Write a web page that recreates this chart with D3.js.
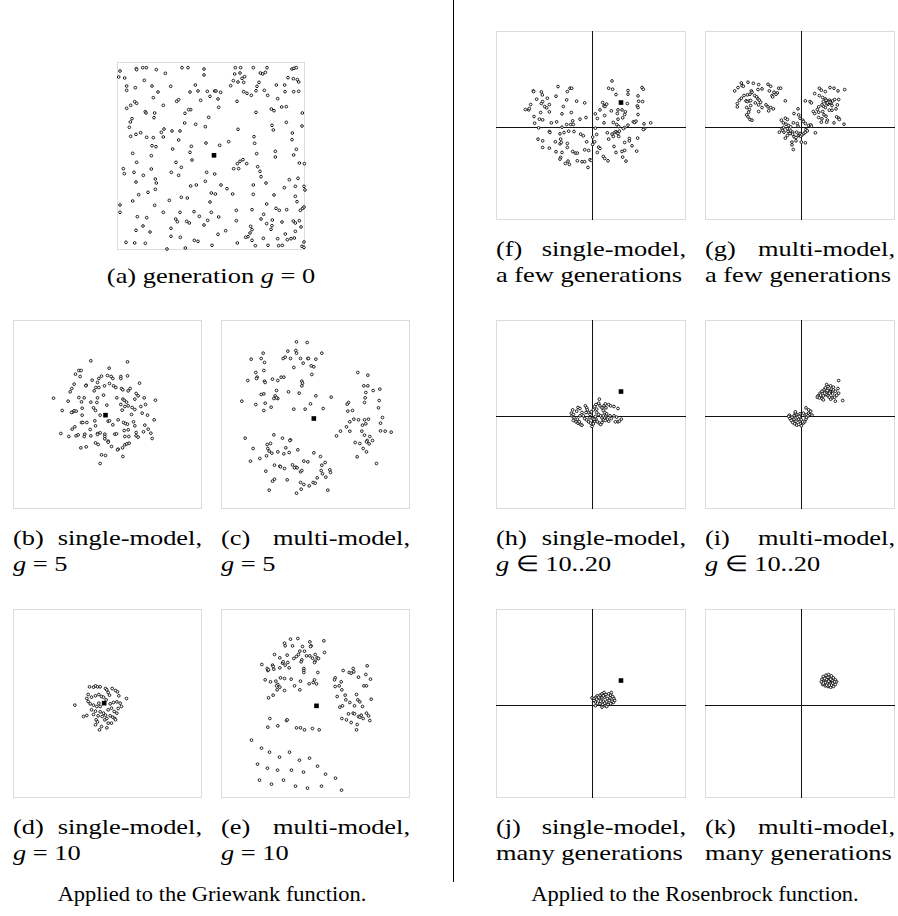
<!DOCTYPE html>
<html>
<head>
<meta charset="utf-8">
<script src="https://cdn.jsdelivr.net/npm/d3@7"></script>
<style>
  body { margin: 0; background: #fff; }
  svg { display: block; }
</style>
</head>
<body>
<svg id="fig" width="898" height="916"></svg>
<script>
/* globals d3 */

// Griewank populations (a)..(e), search-space units
var genZero = [
[-2.73,2.55],[-2.24,2.62],[-2.23,2.59],[-2.05,2.65],[-1.94,2.65],[-1.64,2.59],[-1.37,2.48],[-0.87,2.65],[-0.69,2.65],[-0.21,2.61],[-0.21,2.43],[0.73,2.65],[0.89,2.65],[1.27,2.65],[1.68,2.65],[2.43,2.61],[2.49,2.63],[2.56,2.65],[0.87,2.49],[0.71,2.46],[1.01,2.38],[1.48,2.49],[1.55,2.46],[1.63,2.51],
[-2.77,2.37],[-2.59,2.34],[-2.00,2.27],[0.67,2.26],[0.93,2.33],[0.81,2.22],[0.98,2.21],[0.59,2.11],[1.44,2.21],[1.38,2.09],[1.96,2.13],[2.21,2.13],[2.31,2.35],[2.47,2.32],[2.59,2.29],[2.63,2.22],[-0.47,2.13],[-2.53,2.10],[-2.53,1.97],[-2.27,2.05],[-1.77,2.10],[-1.21,2.09],[-1.59,1.92],[-1.73,1.75],[-0.63,1.92],[-0.39,1.95],[-0.11,1.94],[0.11,1.95],[0.15,1.95],[0.29,1.91],[-0.03,1.79],[0.21,1.71],[-0.31,1.67],[-1.03,1.64],[-0.97,1.69],[-0.61,1.39],[-0.67,1.39],[-1.43,1.52],[-2.29,1.63],[-2.23,1.58],[-2.41,1.52],[-2.53,1.43],[-1.97,1.33],[-1.95,1.29],[-1.69,1.29],[-1.71,1.15],[-0.78,1.28],[0.23,1.46],[0.78,1.64],[0.98,1.93],[1.08,1.88],[1.21,1.82],[1.35,1.96],[1.60,1.97],[1.70,1.82],[2.00,1.72],[2.22,1.93],[2.48,1.93],[2.63,1.94],[2.12,1.47],[2.26,1.48],[1.81,1.41],[1.89,1.36],[1.35,1.31],[2.74,1.29],
[-2.37,1.12],[-2.42,1.02],[-2.45,0.86],[-2.41,0.59],[-2.25,0.65],[-2.11,0.70],[-1.93,0.56],[-1.73,0.55],[-1.49,0.71],[-1.41,0.81],[-1.43,0.57],[-1.17,0.75],[-0.93,0.75],[-0.79,0.99],[-0.97,0.48],[-0.46,0.95],[-0.17,0.88],[-0.07,1.16],[0.81,0.80],[1.29,0.58],[1.31,0.38],[1.83,0.92],[1.87,0.78],[2.26,1.01],[2.73,0.90],[2.44,0.69],[2.43,0.49],[-1.77,0.31],[-1.65,0.28],[-2.35,0.08],[-1.79,0.01],[-1.15,0.21],[-0.59,0.29],[-0.63,0.11],[-0.57,-0.12],[-0.15,0.39],[0.26,0.32],[0.53,0.43],[1.93,0.14],[1.93,-0.03],[1.37,0.07],[2.56,0.20],[2.48,0.03],
[-2.23,-0.19],[-2.63,-0.38],[-2.60,-0.53],[-2.31,-0.49],[-2.03,-0.58],[-1.79,-0.39],[-1.67,-0.69],[-1.05,-0.19],[-0.89,-0.34],[-1.19,-0.49],[-0.97,-0.58],[0.79,-0.23],[0.87,-0.16],[0.96,-0.11],[1.07,-0.23],[0.83,-0.38],[0.68,-0.38],[1.40,-0.32],[1.47,-0.46],[1.50,-0.62],[-0.13,-0.49],[0.11,-0.54],[2.65,-0.21],[2.80,-0.23],[-2.25,-0.78],[-1.64,-0.81],
[-0.61,-0.90],[-0.44,-0.87],[-0.17,-0.76],[0.30,-0.87],[0.48,-0.98],[0.65,-1.14],[0.01,-1.11],[0.13,-1.14],[-0.71,-1.26],[-0.89,-1.24],[-1.25,-1.33],[-1.89,-1.09],[-2.17,-1.16],[-1.67,-1.00],[-2.35,-1.35],[-2.73,-1.47],[-1.69,-1.48],[1.27,-0.87],[1.65,-0.81],[1.27,-1.15],[1.89,-1.17],[2.20,-0.95],[2.53,-0.91],[2.79,-0.91],[2.82,-1.02],[2.35,-0.71],[2.61,-0.67],[2.53,-1.21],[2.58,-1.37],[1.67,-1.44],[-0.03,-1.38],
[-2.73,-1.69],[-2.21,-1.82],[-1.93,-1.85],[-1.43,-1.69],[-0.93,-1.69],[-0.51,-1.67],[0.01,-1.69],[0.23,-1.83],[0.76,-1.63],[1.23,-1.61],[1.95,-1.57],[2.05,-1.63],[2.27,-1.61],[2.68,-1.63],[2.75,-1.57],[2.79,-1.53],[1.58,-1.75],[1.50,-1.89],[1.84,-1.92],[-1.06,-1.89],[-1.01,-1.97],[-0.73,-1.96],[-0.65,-2.01],[-0.35,-1.81],[-0.10,-1.93],[-0.21,-2.07],[-1.20,-2.17],[0.76,-1.94],[1.19,-2.11],[1.23,-2.21],[1.67,-2.03],[1.83,-2.09],[1.80,-2.20],[2.13,-1.98],[2.47,-1.95],[2.53,-2.01],[2.65,-1.94],[2.70,-2.13],
[-2.25,-2.23],[-2.04,-2.10],[-1.83,-2.28],[-1.20,-2.41],[-0.92,-2.44],[-0.50,-2.53],[-0.39,-2.56],[0.44,-2.24],[0.21,-2.35],[1.11,-2.42],[1.04,-2.44],[1.17,-2.31],[1.23,-2.53],[1.57,-2.47],[2.00,-2.48],[2.23,-2.34],[2.29,-2.51],[2.50,-2.46],[2.53,-2.26],[2.79,-2.58],[-2.55,-2.59],[-2.29,-2.61],[-1.97,-2.62],[-1.32,-2.79],[-0.77,-2.76],[0.03,-2.68],[0.79,-2.61],[1.33,-2.69],[1.71,-2.68],[2.03,-2.69],[2.14,-2.68],[2.40,-2.48],[2.73,-2.71],[2.79,-2.74]
];

var singleG5 = [
[-0.50,1.61],[0.60,1.58],[0.05,1.39],[-0.86,1.32],[-0.79,1.32],[-0.96,1.21],[-0.82,1.14],[-0.26,1.08],[-0.18,1.15],[0.00,1.17],[0.11,1.14],[0.16,1.08],[0.40,1.14],[0.40,1.08],[0.60,1.16],[-0.46,1.03],[-0.30,0.96],[0.06,0.93],[0.96,0.94],[-1.00,0.91],[-0.64,0.88],[-0.65,0.86],[-1.07,0.78],[-1.12,0.68],[-0.40,0.71],[-0.35,0.81],[-0.26,0.81],[-0.09,0.86],[0.18,0.86],[0.25,0.81],[0.42,0.78],[0.46,0.74],[0.68,0.78],[0.62,0.71],[0.86,0.63],[0.92,0.56],
[-1.62,0.49],[-1.18,0.40],[-0.86,0.51],[-0.70,0.50],[-0.30,0.50],[-0.12,0.58],[0.28,0.50],[0.46,0.46],[0.50,0.43],[0.57,0.37],[0.82,0.46],[1.10,0.50],[1.44,0.43],[-0.78,0.38],[-0.50,0.37],[-0.32,0.36],[-0.02,0.28],[0.62,0.26],[0.40,0.30],[0.52,0.24],[1.00,0.24],[1.14,0.30],[-1.36,0.12],[-1.05,0.07],[-1.00,0.11],[-0.94,0.10],[-1.08,0.06],[-0.76,0.19],[-0.42,0.20],[-0.36,0.12],[-0.22,-0.02],[0.44,0.13],[0.74,0.21],[0.82,0.15],[0.72,0.00],[1.04,0.04],[1.20,-0.02],[1.40,-0.16],[-0.76,-0.02],
[-0.98,-0.37],[-1.06,-0.44],[-0.78,-0.24],[-0.62,-0.24],[-0.74,-0.24],[-0.38,-0.19],[0.02,-0.20],[0.06,-0.19],[0.16,-0.31],[0.32,-0.16],[0.48,-0.24],[0.54,-0.27],[0.60,-0.29],[0.78,-0.22],[1.12,-0.32],[1.22,-0.44],[-0.36,-0.34],[-0.52,-0.45],[-0.30,-0.57],[-0.30,-0.60],[-0.22,-0.55],[-0.08,-0.59],[-0.08,-0.66],[0.22,-0.59],[0.27,-0.58],[0.50,-0.48],[0.62,-0.46],[0.82,-0.34],[0.86,-0.54],[1.08,-0.52],[1.30,-0.56],
[-1.40,-0.57],[-1.16,-0.66],[-0.94,-0.64],[-0.88,-0.61],[-0.68,-0.59],[-0.70,-0.66],[-0.50,-0.64],[-0.08,-0.73],[0.02,-0.80],[0.02,-0.83],[0.52,-0.66],[0.64,-0.66],[0.86,-0.64],[0.92,-0.68],[1.34,-0.72],[-0.36,-0.85],[-0.28,-0.90],[0.12,-0.96],[0.32,-1.04],[0.30,-1.06],[0.45,-1.00],[0.52,-0.91],[0.58,-0.88],[0.65,-0.86],[-0.80,-1.00],[-0.64,-0.97],[-0.18,-1.21],[-0.06,-1.23],[0.46,-1.26],[-0.22,-1.47]
];

var multiG5 = [
[-0.57,2.18],[-0.25,2.16],[-0.83,1.90],[-0.59,1.92],[-0.57,1.84],[-1.57,1.84],[-1.93,1.66],[-1.63,1.68],[-1.53,1.56],[-0.97,1.68],[-0.91,1.72],[-0.75,1.68],[-0.45,1.68],[-0.23,1.68],[-0.21,1.68],[0.01,1.66],[0.19,1.84],[-0.37,1.54],[-0.13,1.46],[-0.05,1.43],[-0.65,1.41],[-1.55,1.32],[-1.79,1.26],[-1.75,1.12],[-1.77,1.08],[-2.03,1.02],[-1.53,1.00],[-1.51,0.96],[-1.29,1.06],[-1.13,1.02],[-1.03,1.12],[-0.95,1.12],[-0.41,1.00],[-0.39,0.94],[-0.41,0.86],[-0.11,1.20],[-1.17,0.72],[-1.63,0.60],[-1.55,0.62],[-1.21,0.56],[-1.25,0.48],[-1.13,0.48],[-1.17,0.50],[-0.81,0.68],[-0.49,0.64],[0.01,0.56],[0.47,0.52],[-2.21,0.40],[-1.79,0.30],[-1.51,0.34],[-1.33,0.22],[-1.55,0.12],[-0.65,0.16],[-0.31,0.16],[-0.15,0.32],[0.23,0.18],
[1.27,1.26],[1.57,1.18],[1.45,0.86],[1.57,0.86],[1.93,0.76],[1.73,0.72],[1.51,0.66],[1.49,0.50],[1.91,0.42],[1.47,0.36],[0.99,0.36],[0.95,0.31],[1.11,0.12],[0.97,0.10],[1.89,0.20],[2.01,-0.09],[1.15,-0.14],[1.03,-0.22],[1.29,-0.16],[1.47,-0.16],[1.59,-0.14],[1.51,-0.28],[1.41,-0.32],[0.93,-0.37],[0.75,-0.50],[1.03,-0.50],[1.39,-0.50],[1.95,-0.26],[1.95,-0.49],[2.09,-0.50],[2.27,-0.53],[0.63,-0.64],[1.47,-0.62],[1.63,-0.66],[1.55,-0.78],[1.71,-0.78],[1.53,-0.82],[1.61,-0.88],[1.19,-0.84],[1.33,-0.87],[1.43,-1.02],[1.53,-1.12],[1.25,-1.27],[1.83,-1.47],
[-2.11,-0.71],[-1.25,-0.61],[-0.99,-0.71],[-0.75,-0.76],[-0.77,-0.78],[-1.45,-0.90],[-1.35,-0.87],[-1.87,-1.02],[-1.43,-1.02],[-1.39,-1.10],[-1.31,-1.16],[-1.13,-1.12],[-0.95,-1.18],[-0.79,-1.14],[-0.89,-1.00],[-0.53,-1.06],[-0.05,-1.15],[0.15,-1.26],[-1.95,-1.40],[-1.67,-1.32],[-1.47,-1.24],[-1.23,-1.52],[-1.07,-1.55],[-1.05,-1.57],[-0.93,-1.62],[-0.69,-1.51],[-0.59,-1.58],[-0.63,-1.60],[-0.55,-1.60],[-0.45,-1.72],[-0.41,-1.68],[-0.35,-1.40],[-0.23,-1.42],[0.19,-1.52],[0.29,-1.44],[0.17,-1.68],[0.43,-1.66],[0.45,-1.74],[0.21,-1.78],[0.31,-1.88],[0.05,-1.90],[-1.49,-1.70],[-1.29,-2.00],[-1.23,-1.94],[-0.85,-1.96],[-0.45,-2.04],[-0.35,-2.10],[-0.19,-2.14],[-0.07,-2.04],[-0.01,-2.06],[-0.43,-2.24],[-0.57,-2.36],[-1.39,-2.27],[0.37,-2.27]
];

var singleG10 = [
[-0.54,0.50],[-0.42,0.49],[-0.36,0.53],[-0.30,0.50],[-0.22,0.50],[-0.06,0.45],[-0.02,0.41],[0.14,0.45],[0.24,0.39],[0.30,0.35],[0.34,0.23],[0.57,0.15],[-0.58,0.27],[-0.62,0.15],[-0.48,0.19],[-0.36,0.23],[-0.26,0.27],[-0.18,0.21],[-0.12,0.19],[0.02,0.33],[0.06,0.25],[-0.04,0.11],[-0.58,0.06],[-0.52,-0.01],[-0.42,-0.05],[-0.32,-0.09],[-0.22,-0.09],[-0.26,0.01],[0.08,-0.01],[0.18,0.03],[0.28,0.05],[0.38,0.01],[0.42,-0.09],[0.32,-0.15],[-0.98,-0.05],[-0.48,-0.19],[-0.36,-0.23],[-0.22,-0.25],[-0.12,-0.29],[0.02,-0.19],[0.12,-0.14],[0.20,-0.24],[0.28,-0.29],[-0.42,-0.33],[-0.28,-0.37],[-0.16,-0.39],[-0.06,-0.35],[0.08,-0.37],[0.16,-0.41],[0.22,-0.45],[-0.72,-0.39],[-0.62,-0.36],[-0.34,-0.49],[-0.30,-0.55],[-0.08,-0.49],[-0.02,-0.45],[0.02,-0.59],[0.24,-0.49],[-0.18,-0.69],[-0.24,-0.79],[-0.36,-0.64],[-0.02,-0.73],[0.12,-0.59]
];

var multiG10 = [
[-0.75,1.93],[-0.53,1.95],[-0.93,1.81],[-0.91,1.73],[-0.69,1.73],[-0.39,1.71],[-0.17,1.85],[-0.13,1.73],[-0.15,1.71],[0.25,1.88],[-1.23,1.47],[-1.07,1.37],[-0.85,1.45],[-0.65,1.35],[-0.57,1.41],[-0.47,1.57],[-0.33,1.57],[-0.51,1.47],[-0.41,1.31],[-0.43,1.25],[-0.27,1.43],[-0.17,1.43],[-0.09,1.36],[-0.01,1.47],[0.05,1.37],[0.09,1.35],[0.27,1.53],[-1.61,1.17],[-1.45,1.05],[-1.43,0.99],[-1.41,1.01],[-1.29,1.15],[-1.27,1.11],[-1.25,1.03],[-0.99,1.21],[-0.91,1.15],[-0.97,1.25],[-0.83,1.23],[-1.07,1.07],[-0.79,1.07],[-0.35,1.05],[-0.35,0.99],[-0.35,0.93],[-0.01,1.27],[-0.03,1.23],[0.07,0.93],[-1.51,0.71],[-1.35,0.65],[-1.19,0.67],[-1.13,0.57],[-1.17,0.53],[-1.07,0.49],[-1.15,0.41],[-0.93,0.39],[-1.05,0.77],[-0.93,0.75],[-0.73,0.73],[-0.63,0.53],[-0.45,0.67],[-0.47,0.41],[-0.19,0.59],[-0.07,0.63],[-0.03,0.71],[0.03,0.59],[-1.27,0.25],[-1.41,0.17],
[0.83,0.99],[1.01,0.93],[1.07,0.91],[1.13,1.05],[1.15,0.95],[1.55,1.13],[1.29,0.79],[1.51,0.87],[1.65,0.73],[0.59,0.77],[0.57,0.71],[0.77,0.65],[0.59,0.51],[0.71,0.53],[0.79,0.41],[1.45,0.53],[1.53,0.53],[0.65,0.21],[0.89,0.25],[0.91,0.11],[1.03,0.03],[1.23,0.27],[1.27,0.11],[1.33,0.05],[1.67,0.13],[0.73,-0.11],[0.81,-0.07],[1.17,-0.07],[1.41,-0.09],[1.53,-0.29],[1.59,-0.37],[1.13,-0.29],[0.99,-0.31],[1.17,-0.31],[1.29,-0.39],[1.37,-0.35],[1.43,-0.45],[1.33,-0.41],[1.63,-0.51],[0.79,-0.45],[0.93,-0.49],[1.07,-0.57],[1.25,-0.63],[1.23,-0.79],
[-1.37,-0.45],[-1.43,-0.71],[-1.13,-0.67],[-0.87,-0.51],[-0.85,-0.49],[-0.57,-0.73],[-0.45,-0.73],[-0.33,-0.79],[-0.09,-0.75],[0.11,-0.79],[-1.92,-1.10],[-1.62,-1.34],[-1.38,-1.46],[-1.08,-1.61],[-0.78,-1.46],[-0.48,-1.70],[-0.18,-1.64],[-1.74,-1.82],[-1.44,-1.94],[-1.14,-2.00],[-0.72,-2.00],[-0.36,-2.06],[0.06,-1.88],[0.30,-2.12],[0.60,-2.24],[-1.68,-2.30],[-1.32,-2.42],[-0.96,-2.30],[-0.60,-2.48],[-0.24,-2.54],[0.18,-2.48],[0.78,-2.60]
];

// Rosenbrock populations (f)..(k)
var singleFew = [
[-1.02,1.23],[-1.76,1.10],[-1.75,1.08],[-1.52,1.07],[-1.49,0.98],[-1.08,0.94],[-0.74,1.08],[-0.66,1.18],[-0.61,1.18],[-2.00,0.54],[-1.90,0.53],[-1.88,0.57],[-1.84,0.69],[-1.52,0.72],[-1.48,0.78],[-1.66,0.85],[-1.34,0.88],[-1.42,0.63],[-1.36,0.59],[-1.28,0.69],[-1.54,0.45],[-1.28,0.47],[-0.86,0.63],[-0.76,0.83],[-0.46,0.79],[-0.22,0.74],[-0.62,0.45],[-0.90,0.41],[-1.74,0.33],[-1.58,0.25],[-1.48,0.23],[-1.72,0.13],[-1.22,0.14],[-1.06,0.17],[-0.76,0.09],[-0.64,0.09],[-0.56,0.09],[-0.58,0.20],[-0.36,0.25],[-0.18,0.30],[-0.90,0.01],[-1.60,-0.01],[-1.28,-0.12],[-1.26,-0.15],[-0.96,-0.19],[-0.84,-0.15],[-0.70,-0.11],[-0.54,-0.12],[-0.34,-0.20],[-0.26,-0.25],[-1.62,-0.35],[-1.48,-0.40],[-1.10,-0.43],[-0.94,-0.35],[-0.96,-0.49],[-0.92,-0.45],[-0.74,-0.48],[-1.28,-0.62],[-1.48,-0.60],[-1.08,-0.73],[-0.90,-0.75],[-0.58,-0.72],[-0.50,-0.77],[-0.44,-0.77],[-0.74,-0.60],[-0.16,-0.43],[-0.22,-0.67],[-0.10,-0.69],[-0.94,-0.90],[-0.96,-0.95],[-0.80,-1.08],[-0.72,-1.01],[-0.68,-1.11],[-0.44,-1.00],[-0.30,-1.03],[-0.22,-1.03],[-0.12,-1.20],[-0.06,-0.97],[-0.02,-0.99],
[0.60,1.40],[0.50,1.18],[0.62,1.15],[0.72,0.99],[1.08,1.11],[1.08,1.00],[1.50,1.20],[1.54,1.15],[1.38,0.95],[1.40,0.79],[1.52,0.78],[1.36,0.65],[1.38,0.60],[1.06,0.72],[0.44,0.70],[0.36,0.65],[0.39,0.63],[0.32,0.75],[0.24,0.53],[0.10,0.41],[0.16,0.27],[0.38,0.36],[0.58,0.50],[0.76,0.42],[0.78,0.53],[0.90,0.53],[1.00,0.47],[0.98,0.39],[0.92,0.29],[0.78,0.25],[0.64,0.15],[0.36,0.14],[0.74,0.09],[0.80,0.03],[0.98,0.00],[1.08,0.07],[1.24,0.17],[1.28,0.15],[1.32,0.19],[1.38,0.39],[1.56,0.11],[1.76,0.14],[1.58,-0.03],[1.54,-0.06],[0.10,-0.02],[0.14,-0.21],[0.02,-0.29],[0.08,-0.43],[0.02,-0.51],[0.20,-0.59],[0.24,-0.63],[0.16,-0.75],[0.46,-0.16],[0.60,-0.20],[0.68,-0.15],[0.72,-0.13],[0.76,-0.16],[0.78,-0.18],[0.82,-0.11],[0.64,-0.27],[0.50,-0.35],[0.80,-0.27],[0.94,-0.03],[1.12,-0.33],[1.12,-0.40],[1.37,-0.32],[0.98,-0.45],[1.20,-0.55],[0.66,-0.57],[0.34,-0.87],[0.38,-0.93],[0.48,-1.00],[0.72,-0.75],[0.90,-0.72],[0.98,-0.69],[0.92,-0.89],[1.02,-1.01],[1.34,-0.71]
];

var multiFew = [
[-1.99,1.10],[-1.89,1.20],[-1.79,1.34],[-1.77,1.26],[-1.73,1.24],[-1.59,1.36],[-1.43,1.33],[-1.27,1.29],[-1.17,1.16],[-1.29,1.14],[-0.99,1.30],[-0.91,1.24],[-0.67,1.18],[-0.61,1.18],[-0.95,1.10],[-0.81,1.06],[-0.71,1.04],[-0.75,1.00],[-0.87,0.96],[-0.85,0.92],[-1.49,1.10],[-1.47,1.06],[-1.53,1.00],[-1.61,0.98],[-1.71,0.96],[-1.79,0.88],[-1.85,0.82],[-1.91,0.72],[-1.91,0.62],[-1.65,0.80],[-1.61,0.78],[-1.55,0.80],[-1.51,0.81],[-1.39,0.96],[-1.33,0.92],[-1.29,0.86],[-1.25,0.82],[-1.21,0.76],[-1.27,0.68],[-1.37,0.74],[-1.17,0.60],[-1.05,0.68],[-0.99,0.62],[-0.91,0.60],[-0.97,0.50],[-0.83,0.56],[-0.47,0.80],[-1.63,0.60],[-1.55,0.54],[-1.57,0.46],[-1.63,0.38],[-1.59,0.32],[-1.53,0.24],[-1.47,0.22],[-1.27,0.48],[-1.51,0.66],
[-0.09,0.56],[-0.21,0.42],[-0.07,0.38],[-0.47,0.28],[-0.41,0.24],[-0.59,0.22],[-0.53,0.14],[-0.45,0.10],[-0.37,0.06],[-0.31,0.02],[-0.41,-0.04],[-0.53,0.00],[-0.57,-0.04],[-0.55,-0.09],[-0.65,-0.14],[-0.51,-0.14],[-0.39,-0.12],[-0.31,-0.10],[-0.25,-0.14],[-0.47,-0.32],[-0.41,-0.24],[-0.33,-0.18],[-0.25,-0.20],[-0.21,-0.28],[-0.15,-0.30],[-0.07,-0.24],[-0.03,-0.18],[-0.13,-0.14],[-0.27,-0.44],[-0.27,-0.52],[-0.23,-0.66],[-0.15,-0.40],[-0.05,-0.24],[-0.01,-0.26],[0.03,-0.22],[0.09,-0.18],[0.13,-0.14],[0.15,-0.06],[0.19,-0.10],[0.23,0.06],[0.29,0.08],[0.31,0.04],[0.13,0.12],[0.05,0.22],[-0.03,0.28],[0.07,0.18],[-0.11,0.12],[-0.09,0.04],[-0.23,0.14],[0.13,-0.46],[0.01,-0.44],[0.43,-0.16],
[0.13,0.80],[0.27,0.78],[0.31,0.74],[0.41,1.02],[0.55,1.18],[0.61,1.12],[0.73,1.08],[0.87,1.20],[0.99,1.18],[1.11,1.10],[1.31,1.14],[0.55,0.96],[0.65,0.90],[0.73,0.86],[0.77,0.80],[0.81,0.76],[0.85,0.82],[0.89,0.72],[0.93,0.66],[1.01,0.84],[1.09,0.68],[1.13,0.84],[1.05,0.56],[0.93,0.52],[0.85,0.52],[0.73,0.60],[0.67,0.64],[0.63,0.68],[0.53,0.62],[0.49,0.54],[0.37,0.48],[0.41,0.42],[0.53,0.46],[0.65,0.48],[0.69,0.38],[0.75,0.34],[0.79,0.22],[0.77,0.16],[0.61,0.16],[0.53,0.30],[0.63,0.26],[0.99,0.14],[1.07,0.32],[1.13,0.28],[1.15,0.24],[1.29,0.10],[0.95,0.80],[0.81,0.70],[0.67,0.78],[0.77,0.72],[0.83,0.78],[0.79,0.74],[0.87,0.76],[0.75,0.82]
];

var singleMid = [
[-0.58,0.20],[-0.62,0.10],[-0.60,0.02],[-0.56,0.06],[-0.54,-0.04],[-0.56,-0.12],[-0.48,-0.16],[-0.42,-0.20],[-0.34,-0.24],[-0.30,-0.26],[-0.38,-0.16],[-0.44,-0.08],[-0.42,0.27],[-0.36,0.24],[-0.20,0.32],[-0.16,0.26],[-0.14,0.20],[-0.10,0.12],[-0.06,0.06],[-0.18,0.12],[-0.26,0.02],[-0.22,-0.06],[-0.16,-0.10],[-0.10,-0.16],[-0.04,-0.20],[0.00,-0.30],[0.04,-0.22],[0.08,-0.14],[0.12,-0.08],[0.16,-0.16],[0.22,-0.20],[0.26,-0.24],[0.30,-0.18],[0.34,-0.10],[0.38,-0.04],[0.42,0.02],[0.44,0.08],[0.38,0.12],[0.34,0.18],[0.30,0.26],[0.24,0.32],[0.20,0.40],[0.22,0.52],[0.12,0.36],[0.08,0.30],[0.04,0.20],[-0.02,0.14],[0.14,0.12],[0.20,0.06],[0.10,0.00],[0.26,0.02],[0.36,0.32],[0.40,0.38],[0.42,0.26],[0.50,0.36],[0.56,0.32],[0.66,0.30],[0.78,0.24],[0.54,0.02],[0.58,-0.06],[0.66,0.02],[0.74,-0.02],[0.70,-0.16],[0.78,-0.16],[0.82,-0.14],[0.88,-0.08],[0.50,-0.14],[0.46,-0.08],[0.14,0.22],[-0.06,-0.04],[0.02,-0.06],[0.06,-0.08],[-0.46,0.16],[-0.36,0.02],[-0.30,0.12],[0.30,-0.04],[0.34,0.02],[0.40,-0.12]
];

var multiMid = [
[1.13,1.08],[0.77,0.96],[0.81,0.90],[0.73,0.86],[0.69,0.80],[0.63,0.76],[0.57,0.70],[0.51,0.62],[0.49,0.58],[0.55,0.56],[0.63,0.54],[0.67,0.50],[0.75,0.66],[0.83,0.78],[0.87,0.74],[0.91,0.82],[0.97,0.80],[1.03,0.76],[1.11,0.84],[1.13,0.70],[1.07,0.64],[1.01,0.58],[0.93,0.56],[0.89,0.52],[1.03,0.46],[1.25,0.48],[0.81,0.62],[0.85,0.70],[0.77,0.74],[0.95,0.68],[0.71,0.70],[0.59,0.64],[0.89,0.92],[0.97,0.88],[0.79,0.78],[0.85,0.58],[0.67,0.62],
[-0.35,0.04],[-0.37,0.00],[-0.33,-0.06],[-0.29,-0.12],[-0.25,-0.18],[-0.19,-0.22],[-0.13,-0.26],[-0.07,-0.24],[0.01,-0.28],[0.07,-0.20],[0.11,-0.16],[0.15,-0.08],[0.13,0.02],[0.17,0.06],[0.23,0.10],[0.27,0.06],[0.33,0.04],[0.29,0.16],[0.23,0.20],[0.15,0.26],[0.07,0.10],[-0.03,0.08],[-0.13,0.06],[-0.17,0.10],[-0.21,0.02],[-0.27,-0.02],[-0.07,-0.08],[-0.03,-0.14],[0.01,-0.10],[0.05,-0.16],[-0.15,-0.14],[-0.21,-0.08],[-0.11,-0.02],[-0.05,0.00],[0.17,-0.02],[0.21,0.02],[-0.17,0.14]
];

var singleMany = [
[0.00,0.23],[0.06,0.21],[0.12,0.25],[0.16,0.29],[0.24,0.31],[0.30,0.35],[0.36,0.39],[0.42,0.33],[0.50,0.35],[0.56,0.31],[0.62,0.27],[0.66,0.21],[0.68,0.15],[0.64,0.09],[0.56,0.05],[0.48,0.03],[0.40,-0.01],[0.32,0.03],[0.24,0.05],[0.16,0.07],[0.10,0.11],[0.06,0.15],[0.14,0.19],[0.22,0.21],[0.30,0.23],[0.38,0.25],[0.46,0.21],[0.52,0.15],[0.44,0.11],[0.34,0.13],[0.26,0.13],[0.38,0.07],[0.10,-0.01],[0.30,-0.05],[0.44,-0.03],[0.34,0.29],[0.20,0.25],[0.54,0.23],[0.58,0.39],[0.60,0.13]
];

var multiMany = [
[0.63,0.79],[0.67,0.87],[0.75,0.91],[0.83,0.93],[0.91,0.89],[0.97,0.83],[1.03,0.77],[1.07,0.71],[1.03,0.63],[0.97,0.57],[0.89,0.55],[0.81,0.57],[0.73,0.59],[0.65,0.63],[0.61,0.71],[0.69,0.73],[0.77,0.79],[0.85,0.81],[0.93,0.75],[0.87,0.67],[0.79,0.67],[0.73,0.69],[0.95,0.67],[0.83,0.73],[0.89,0.79],[0.71,0.81],[0.81,0.85],[1.01,0.71],[0.67,0.67],[0.91,0.61],[0.77,0.61],[0.85,0.61]
];

// marked reference point of each panel
var griewankBest = [[0.09,0.02],[-0.06,-0.02],[-0.05,-0.12],[-0.10,0.01],[0.03,-0.07]];
var rosenbrockBest = [0.87,0.75];
var rosenbrockX = [-2.88, 2.82];
var rosenbrockY = [-2.78, 2.90];

// caption text
var captionTags = ['(a)','(b)','(c)','(d)','(e)','(f)','(g)','(h)','(i)','(j)','(k)'];
var captionFirst = ['generation','single-model,','multi-model,','single-model,','multi-model,','single-model,','multi-model,','single-model,','multi-model,','single-model,','multi-model,'];
var captionSecond = ['g = 0','g = 5','g = 5','g = 10','g = 10','a few generations','a few generations','g \u2208 10..20','g \u2208 10..20','many generations','many generations'];
var groupTitles = ['Applied to the Griewank function.', 'Applied to the Rosenbrock function.'];

var UNIT = 100 / 3;  // pixels per search-space unit
var FONT = '"Liberation Serif", "Times New Roman", serif';
var FS = 22, STRETCH = 1.2;

var svg = d3.select('#fig');

var panels = [
  {pts: genZero,    best: griewankBest[0], x: 117, y: 62,  w: 188, h: 188},
  {pts: singleG5,   best: griewankBest[1], x: 13,  y: 320, w: 189, h: 189},
  {pts: multiG5,    best: griewankBest[2], x: 221, y: 320, w: 189, h: 189},
  {pts: singleG10,  best: griewankBest[3], x: 13,  y: 609, w: 189, h: 189},
  {pts: multiG10,   best: griewankBest[4], x: 221, y: 609, w: 189, h: 189},
  {pts: singleFew,  best: rosenbrockBest,  x: 496, y: 31,  w: 190, h: 189, rosen: true},
  {pts: multiFew,   best: rosenbrockBest,  x: 705, y: 31,  w: 190, h: 189, rosen: true},
  {pts: singleMid,  best: rosenbrockBest,  x: 496, y: 320, w: 190, h: 189, rosen: true},
  {pts: multiMid,   best: rosenbrockBest,  x: 705, y: 320, w: 190, h: 189, rosen: true},
  {pts: singleMany, best: rosenbrockBest,  x: 496, y: 609, w: 190, h: 189, rosen: true},
  {pts: multiMany,  best: rosenbrockBest,  x: 705, y: 609, w: 190, h: 189, rosen: true}
];

// text placed at (x, y), widened a little to the look of the reference face
function capText(parent, x, y, anchor, stretch) {
  return parent.append('text')
    .attr('transform', 'translate(' + x + ',' + y + ') scale(' + stretch + ',1)')
    .attr('text-anchor', anchor);
}

// first "g" of a line is set in math italic
function mathLine(t, s) {
  if (s.indexOf('g ') === 0) {
    t.append('tspan').attr('font-style', 'italic').text('g');
    t.append('tspan').text(s.slice(1));
  } else {
    t.append('tspan').text(s);
  }
}

panels.forEach(function (p, i) {
  var sx, sy;
  if (p.rosen) {
    sx = d3.scaleLinear().domain(rosenbrockX).range([p.x, p.x + p.w]);
    sy = d3.scaleLinear().domain(rosenbrockY).range([p.y + p.h, p.y]);
  } else {
    var hx = p.w / 2 / UNIT, hy = p.h / 2 / UNIT;
    sx = d3.scaleLinear().domain([-hx, hx]).range([p.x, p.x + p.w]);
    sy = d3.scaleLinear().domain([-hy, hy]).range([p.y + p.h, p.y]);
  }

  var g = svg.append('g');

  g.append('rect')
    .attr('x', p.x + 0.5).attr('y', p.y + 0.5)
    .attr('width', p.w - 1).attr('height', p.h - 1)
    .attr('fill', 'none')
    .attr('stroke', '#dcdcdc')
    .attr('stroke-width', 1);

  if (p.rosen) {
    var ax = Math.round(sx(0)) + 0.5, ay = Math.round(sy(0)) + 0.5;
    g.append('line')
      .attr('x1', p.x).attr('x2', p.x + p.w)
      .attr('y1', ay).attr('y2', ay)
      .attr('stroke', '#111').attr('stroke-width', 1);
    g.append('line')
      .attr('x1', ax).attr('x2', ax)
      .attr('y1', p.y).attr('y2', p.y + p.h)
      .attr('stroke', '#111').attr('stroke-width', 1);
  }

  g.append('rect')
    .attr('x', sx(p.best[0]) - 2.3)
    .attr('y', sy(p.best[1]) - 2.3)
    .attr('width', 4.6).attr('height', 4.6)
    .attr('fill', '#000');

  g.selectAll('circle')
    .data(p.pts)
    .join('circle')
    .attr('cx', function (d) { return sx(d[0]); })
    .attr('cy', function (d) { return sy(d[1]); })
    .attr('r', 1.35)
    .attr('fill', '#fff')
    .attr('stroke', '#000')
    .attr('stroke-width', 0.85);

  // captions
  var cap = svg.append('g')
    .attr('font-family', FONT)
    .attr('font-size', FS)
    .attr('fill', '#000');

  if (i === 0) {
    var t = capText(cap, p.x + p.w / 2, p.y + p.h + 33, 'middle', STRETCH);
    t.append('tspan').text(captionTags[i] + ' ' + captionFirst[i] + ' ');
    mathLine(t, captionSecond[i]);
    return;
  }

  var y1 = p.y + p.h + 36;
  capText(cap, p.x, y1, 'start', STRETCH).text(captionTags[i]);
  capText(cap, p.x + p.w, y1, 'end', STRETCH).text(captionFirst[i]);
  mathLine(capText(cap, p.x, y1 + 26, 'start', STRETCH), captionSecond[i]);
});

var titles = svg.append('g')
  .attr('font-family', FONT)
  .attr('font-size', 21);

groupTitles.forEach(function (s, i) {
  capText(titles, i === 0 ? 212 : 695, 901, 'middle', 1.07).text(s);
});

// column divider
svg.append('line')
  .attr('x1', 453.5).attr('x2', 453.5)
  .attr('y1', 0).attr('y2', 882)
  .attr('stroke', '#000').attr('stroke-width', 1);
</script>
</body>
</html>
